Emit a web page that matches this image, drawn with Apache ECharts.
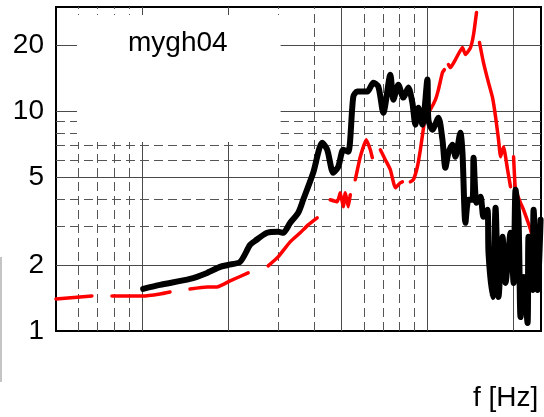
<!DOCTYPE html>
<html>
<head>
<meta charset="utf-8">
<script src="https://cdn.jsdelivr.net/npm/echarts@6/dist/echarts.min.js"></script>
<style>
  html, body { margin: 0; padding: 0; background: #fff; }
  #chart { width: 544px; height: 417px; }
</style>
</head>
<body>
<div id="chart"></div>
<script>
// Spectral ratio of station mygh04: black = observed, red = model (with gaps)
const blackFreq = [1.01, 1.157, 1.474, 1.691, 1.878, 2.00, 2.207, 2.393, 2.492, 2.746,
  3.00, 3.124, 3.305, 3.527, 3.672, 3.981, 4.281, 4.458, 4.679, 4.872,
  5.074, 5.283, 5.501, 5.68, 6.159, 6.467, 6.733, 7.01, 7.417, 7.598,
  7.911, 8.236, 8.577, 8.858, 9.076, 9.299, 9.605, 10.0, 10.08, 10.41,
  10.93, 11.29, 11.56, 11.85, 12.24, 12.54, 13.05, 13.27, 13.59, 13.93,
  14.38, 14.51, 14.86, 15.35, 15.72, 16.23, 16.37, 16.91, 17.33, 17.75,
  18.33, 18.78, 19.55, 20.04, 20.36, 20.86, 21.2, 21.72, 22.43, 22.61,
  23.36, 23.55, 24.32, 24.92];
const blackAmp = [1.555, 1.622, 1.727, 1.84, 1.96, 2.0, 2.066, 2.47, 2.576, 2.803,
  2.832, 2.803, 3.112, 3.458, 3.965, 5.266, 7.218, 6.707, 5.266, 5.609,
  6.707, 6.567, 11.71, 12.34, 12.34, 13.56, 13.01, 9.89, 14.75, 11.34,
  13.28, 11.59, 12.87, 10.99, 8.72, 10.43, 8.72, 14.0, 9.19, 8.28,
  9.39, 7.45, 5.55, 6.5, 7.07, 6.23, 8.02, 6.5, 3.112, 3.965,
  3.965, 6.17, 3.84, 4.09, 3.315, 3.569, 2.27, 1.43, 3.645, 1.43,
  2.687, 1.657, 2.803, 1.657, 4.405, 3.213, 1.158, 1.764, 1.088, 2.687,
  1.539, 3.569, 1.539, 3.213];

// null marks a break in the red curve
const redFreq = [0.5, 0.668, null, 0.785, 1.008, 1.157, 1.254, null,
  1.474, 1.691, 1.833, 2.036, 2.355, null,
  2.768, 3.0, 3.305, 3.584, 3.823, 4.111, null,
  4.567, 4.833, 4.951, 5.074, 5.157, 5.283, 5.368, null,
  5.589, 5.821, 6.109, 6.31, 6.412, null,
  6.842, 7.12, 7.417, 7.722, 8.04, 8.171, null,
  8.717, 8.93, 9.224, 9.45, 9.84, 10.24, 10.67, 10.93, 11.29, 11.47, null,
  11.85, 12.04, 12.54, 13.27, 13.59, 14.16, 14.51, 14.86, null,
  15.22, 15.72, 16.37, 16.91, 17.33, 17.75, 18.04, 18.48, 19.09, 19.55, null,
  20.04, 20.36, 21.2, 21.72, 22.98, 23.93, 24.52];
const redAmp = [1.40, 1.445, null, 1.445, 1.445, 1.476, 1.507, null,
  1.555, 1.588, 1.588, 1.692, 1.84, null,
  1.981, 2.177, 2.549, 2.803, 3.048, 3.281, null,
  3.965, 3.882, 4.267, 3.684, 4.267, 3.684, 4.178, null,
  4.893, 6.23, 7.45, 6.707, 6.17, null,
  6.707, 6.04, 5.435, 4.498, 4.741, 4.79, null,
  4.79, 4.893, 5.609, 6.707, 9.49, 10.21, 11.34, 12.6, 15.07, 15.55, null,
  16.39, 15.88, 17.28, 19.6, 18.21, 19.6, 22.47, 28.32, null,
  20.66, 16.74, 13.56, 11.59, 9.49, 7.45, 6.23, 6.92, 5.435, 4.546, null,
  6.23, 4.405, 3.84, 3.569, 2.892, 2.27, 1.899];

// Axis ranges, tick labels and grid positions
const xRange = [0.5, 25];
const yRange = [1, 30];
const yTickLabels = [1, 2, 5, 10, 20];
const xMajorGrid = [1, 2, 5, 10, 20];
const xMinorGrid = [0.6, 0.7, 0.8, 0.9, 3, 4, 6, 7, 8, 9];
const yMajorGrid = [2, 5, 10, 20];
const yMinorGrid = [3, 4, 6, 7, 8, 9];

const FONT = '"Liberation Sans", Arial, sans-serif';

function toPairs(xs, ys) {
  return xs.map((x, i) => (x == null || ys[i] == null) ? ['-', '-'] : [x, ys[i]]);
}

const solidGrid = { color: '#4a4a4a', width: 1, type: 'solid' };
const dashedGrid = { color: '#555555', width: 1, type: [9, 5] };
const gridLines = [].concat(
  xMajorGrid.map(v => ({ xAxis: v, lineStyle: solidGrid })),
  xMinorGrid.map(v => ({ xAxis: v, lineStyle: dashedGrid })),
  yMajorGrid.map(v => ({ yAxis: v, lineStyle: solidGrid })),
  yMinorGrid.map(v => ({ yAxis: v, lineStyle: dashedGrid }))
);

const chart = echarts.init(document.getElementById('chart'), null, { renderer: 'canvas' });
chart.setOption({
  animation: false,
  backgroundColor: '#fff',
  title: [
    {
      text: 'mygh04',
      left: 77, top: 15,
      backgroundColor: '#fff',
      padding: [14, 53, 85, 51],
      textStyle: { fontFamily: FONT, fontSize: 28, fontWeight: 'normal', color: '#000', lineHeight: 28 }
    },
    {
      text: 'f [Hz]',
      left: 473, top: 384,
      padding: 0,
      textStyle: { fontFamily: FONT, fontSize: 28, fontWeight: 'normal', color: '#000', lineHeight: 28 }
    }
  ],
  grid: {
    left: 56, right: 3, top: 7, bottom: 86,
    show: true, borderColor: '#000', borderWidth: 2, backgroundColor: 'transparent'
  },
  xAxis: {
    type: 'log', logBase: 10, min: xRange[0], max: xRange[1],
    axisLine: { show: false }, axisTick: { show: false },
    axisLabel: { show: false }, splitLine: { show: false }
  },
  yAxis: {
    type: 'log', logBase: 10, min: yRange[0], max: yRange[1],
    axisLine: { show: false }, axisTick: { show: false },
    splitLine: { show: false },
    axisLabel: {
      customValues: yTickLabels,
      fontFamily: FONT, fontSize: 28, color: '#000', margin: 12
    }
  },
  graphic: [{
    type: 'line', silent: true,
    shape: { x1: 1, y1: 257, x2: 1, y2: 382 },
    style: { stroke: '#c4c4c4', lineWidth: 2 }
  }],
  series: [
    {
      name: 'model', type: 'line', z: 2,
      data: toPairs(redFreq, redAmp),
      showSymbol: false, connectNulls: false, smooth: 0.15,
      lineStyle: { color: '#ff0000', width: 3.5, cap: 'round', join: 'round' },
      markLine: {
        silent: true, z: 1, symbol: ['none', 'none'],
        label: { show: false },
        emphasis: { disabled: true },
        data: gridLines
      }
    },
    {
      name: 'observed', type: 'line', z: 3,
      data: toPairs(blackFreq, blackAmp),
      showSymbol: false, smooth: 0.25,
      lineStyle: { color: '#000000', width: 6, cap: 'round', join: 'round' }
    }
  ]
});
</script>
</body>
</html>
